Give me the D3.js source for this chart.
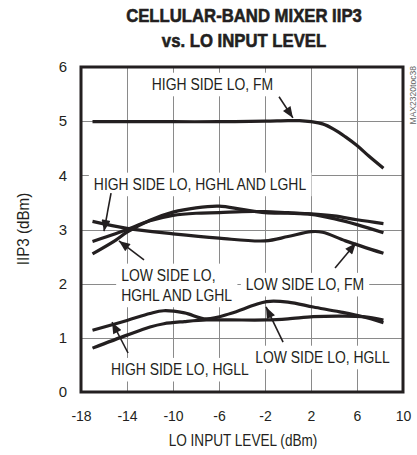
<!DOCTYPE html>
<html><head><meta charset="utf-8">
<script src="https://cdn.jsdelivr.net/npm/d3@7"></script>
<style>
html,body{margin:0;padding:0;background:#fff;}
svg{display:block;}
text{font-family:"Liberation Sans Narrow","Arial Narrow","Liberation Sans",sans-serif;fill:#231f20;}
</style></head>
<body>
<script>
// ---- data ----
const xTicks = [-18, -14, -10, -6, -2, 2, 6, 10];
const yTicks = [0, 1, 2, 3, 4, 5, 6];
const xHighFM  = [-17, -14, -10, -6, -2, 0, 1, 2, 3, 4, 5, 6, 7, 8.3];
const yHighFM  = [4.99, 4.99, 4.99, 4.99, 5.0, 5.01, 5.01, 4.99, 4.95, 4.85, 4.71, 4.55, 4.36, 4.13];
const xLowFM   = [-17, -14, -10, -6, -2, 0, 2, 3, 5, 8.3];
const yLowFM   = [3.15, 3.02, 2.92, 2.84, 2.79, 2.87, 2.96, 2.95, 2.79, 2.56];
const xHighHG  = [-17, -15, -14, -12, -10, -8, -6, -4, -2, 0, 2, 4, 6, 8.3];
const yHighHG  = [2.78, 2.92, 3.0, 3.16, 3.26, 3.3, 3.31, 3.33, 3.33, 3.31, 3.29, 3.25, 3.18, 3.11];
const xLowHG   = [-17, -15, -14, -12, -10, -8, -6, -4, -2, 0, 2, 4, 6, 8.3];
const yLowHG   = [2.55, 2.8, 2.95, 3.17, 3.32, 3.4, 3.43, 3.37, 3.31, 3.3, 3.28, 3.2, 3.09, 2.94];
const xHighGLL = [-17, -14, -12, -10.8, -9, -7.1, -5, -3, -1.85, 0, 2.2, 4.5, 6.5, 8.3];
const yHighGLL = [1.14, 1.32, 1.45, 1.5, 1.46, 1.35, 1.45, 1.6, 1.67, 1.66, 1.57, 1.48, 1.39, 1.28];
const xLowGLL  = [-17, -14, -12, -10.8, -9, -7.1, -5, -1.85, 0, 2.2, 4.5, 6.5, 8.3];
const yLowGLL  = [0.81, 1.05, 1.2, 1.26, 1.3, 1.33, 1.33, 1.33, 1.35, 1.39, 1.4, 1.39, 1.33];
const labelText = ["HIGH SIDE LO, FM", "HIGH SIDE LO, HGHL AND LGHL", "LOW SIDE LO,|HGHL AND LGHL",
                   "LOW SIDE LO, FM", "HIGH SIDE LO, HGLL", "LOW SIDE LO, HGLL"];
const labelX = [-6.57, -7.65, -9.9, 1.48, -9.4, 3.0];
const labelY = [5.575, 3.73, 2.05, 1.88, 0.31, 0.535];
const arrowFromX = [-0.78, -15.39, -12.52, 4.09, -13.91, -0.43];
const arrowFromY = [5.45, 3.67, 2.44, 2.29, 0.72, 0.92];
const arrowToX   = [0.43, -16.0, -14.7, 5.91, -15.3, -1.91];
const arrowToY   = [5.06, 2.97, 2.79, 2.75, 1.29, 1.57];
const titleLines = ["CELLULAR-BAND MIXER IIP3", "vs. LO INPUT LEVEL"];

// ---- layout ----
const W = 417, H = 455;
const L = 81, R = 403, T = 67, B = 392;
const svg = d3.select("body").append("svg").attr("width", W).attr("height", H);
const x = d3.scaleLinear().domain([-18, 10]).range([L, R]);
const y = d3.scaleLinear().domain([0, 6]).range([B, T]);

// helper: horizontally condensed text
function ctext(parent, str, px, py, size, sx, anchor) {
  return parent.append("text")
    .attr("transform", `translate(${px},${py}) scale(${sx},1)`)
    .attr("text-anchor", anchor || "middle").attr("font-size", size).text(str);
}

// title
titleLines.forEach((t, i) => {
  ctext(svg, t, 244, 22 + i * 25, 19, 0.88).attr("font-weight", "bold")
    .attr("stroke", "#231f20").attr("stroke-width", 0.6);
});

// grid
const grid = svg.append("g").attr("stroke", "#8a8a8a").attr("stroke-width", 1);
grid.selectAll("line.v").data(xTicks.slice(1, -1)).join("line")
  .attr("x1", d => x(d) + 0.5).attr("x2", d => x(d) + 0.5).attr("y1", T).attr("y2", B);
grid.selectAll("line.h").data(yTicks.slice(1, -1)).join("line")
  .attr("y1", d => Math.round(y(d)) + 0.5).attr("y2", d => Math.round(y(d)) + 0.5).attr("x1", L).attr("x2", R);

// axes (tick labels)
const xAxis = d3.axisBottom(x).tickValues(xTicks).tickSize(0).tickPadding(19).tickFormat(d => String(d));
const gx = svg.append("g").attr("transform", `translate(0,${B})`).call(xAxis);
gx.select(".domain").remove();
gx.selectAll("text").attr("font-size", 14).attr("font-family", null).attr("fill", "#231f20");
const yAxis = d3.axisLeft(y).tickValues(yTicks).tickSize(0).tickPadding(14).tickFormat(d => String(d));
const gy = svg.append("g").attr("transform", `translate(${L},0)`).call(yAxis);
gy.select(".domain").remove();
gy.selectAll("text").attr("font-size", 15).attr("font-family", null).attr("fill", "#231f20");

// axis titles
ctext(svg, "LO INPUT LEVEL (dBm)", 243, 446, 16, 0.85);
svg.append("text").attr("transform", `translate(29,229) rotate(-90) scale(0.95,1)`)
  .attr("text-anchor", "middle").attr("font-size", 16).text("IIP3 (dBm)");

// label backgrounds & labels
const lab = svg.append("g");
labelText.forEach((t, i) => {
  const lines = t.split("|");
  const g = lab.append("g");
  const multi = lines.length > 1;
  lines.forEach((ln, j) => {
    ctext(g, ln, multi ? x(labelX[i]) - 53 : x(labelX[i]), y(labelY[i]) + j * 20, 17, 0.82, multi ? "start" : "middle");
  });
  const bb = g.node().getBBox();
  g.insert("rect", "text").attr("x", bb.x - 5).attr("y", bb.y - 2)
    .attr("width", bb.width + 10).attr("height", bb.height + 5).attr("fill", "#fff");
});

// frame
svg.append("rect").attr("x", L).attr("y", T).attr("width", R - L).attr("height", B - T)
  .attr("fill", "none").attr("stroke", "#231f20").attr("stroke-width", 3);

// curves
const series = [[xHighFM, yHighFM], [xLowFM, yLowFM], [xHighHG, yHighHG], [xLowHG, yLowHG], [xHighGLL, yHighGLL], [xLowGLL, yLowGLL]];
const line = d3.line().x(d => x(d[0])).y(d => y(d[1])).curve(d3.curveCatmullRom.alpha(0.5));
svg.append("g").selectAll("path").data(series).join("path")
  .attr("d", s => line(s[0].map((v, i) => [v, s[1][i]])))
  .attr("fill", "none").attr("stroke", "#231f20").attr("stroke-width", 3.2).attr("stroke-linecap", "butt");

// arrows
const defs = svg.append("defs");
defs.append("marker").attr("id", "ah").attr("viewBox", "0 0 10 8").attr("refX", 10).attr("refY", 4)
  .attr("markerWidth", 13).attr("markerHeight", 9).attr("markerUnits", "userSpaceOnUse").attr("orient", "auto")
  .append("path").attr("d", "M0,0L10,4L0,8Z").attr("fill", "#231f20");
svg.append("g").selectAll("line").data(arrowFromX).join("line")
  .attr("x1", (d, i) => x(arrowFromX[i])).attr("y1", (d, i) => y(arrowFromY[i]))
  .attr("x2", (d, i) => x(arrowToX[i])).attr("y2", (d, i) => y(arrowToY[i]))
  .attr("stroke", "#231f20").attr("stroke-width", 1.6).attr("marker-end", "url(#ah)");

// figure code
svg.append("text").attr("transform", `translate(416,66) rotate(-90) scale(0.95,1)`).attr("text-anchor", "end")
  .attr("font-size", 9).style("fill", "#666").text("MAX2320toc38");
</script>
</body></html>
